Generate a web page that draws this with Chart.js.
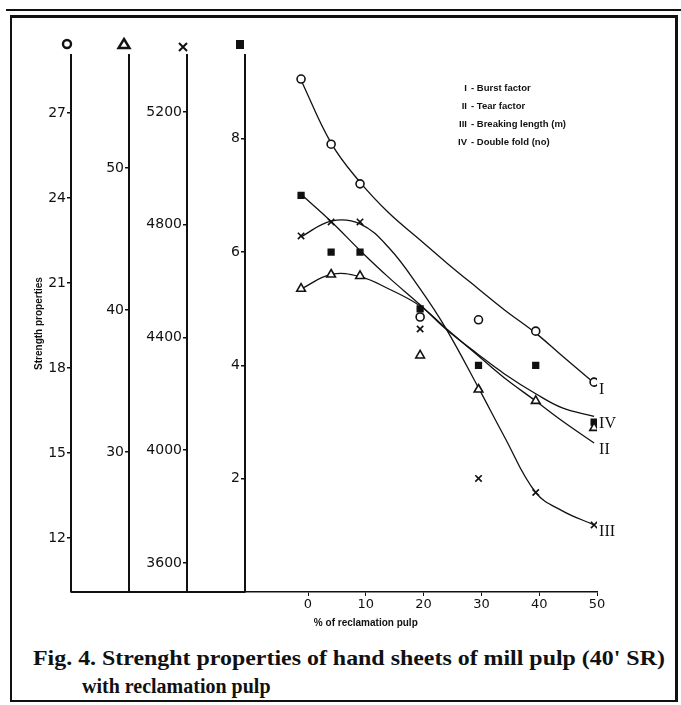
<!DOCTYPE html>
<html>
<head>
<meta charset="utf-8">
<script src="https://cdn.jsdelivr.net/npm/chart.js@4.4.0/dist/chart.umd.min.js"></script>
<style>
  html, body { margin: 0; padding: 0; background: #fff; }
  body { width: 681px; height: 705px; position: relative; overflow: hidden; }
  #topRule { position: absolute; left: 6px; top: 9px; width: 675px; height: 2px; background: #111; }
  #frame { position: absolute; left: 10px; top: 15px; width: 663px; height: 682px;
           border-top: 3px solid #111; border-left: 2px solid #111; border-right: 3px solid #111; border-bottom: 2px solid #111; }
  #chart { position: absolute; left: 0; top: 0; }
  .cap { position: absolute; font-family: "Liberation Serif", serif; font-weight: bold; font-size: 20px;
         line-height: 20px; color: #111; white-space: nowrap; transform-origin: 0 0; }
</style>
</head>
<body>
<div id="topRule"></div>
<div id="frame"></div>
<canvas id="chart" width="681" height="640"></canvas>
<div class="cap" id="cap1" style="left:33px; top:648px;">Fig. 4. Strenght properties of hand sheets of mill pulp (40' SR)</div>
<div class="cap" id="cap2" style="left:82px; top:676px;">with reclamation pulp</div>
<script>
// % of reclamation pulp (x positions)
const pulp = [-1.2, 4, 9, 19.4, 29.5, 39.4, 49.5];
// measured points
const burstFactor = [28.2, 25.9, 24.5, 19.8, 19.7, 19.3, 17.5];
const tearFactor = [41.5, 42.5, 42.4, 36.8, 34.4, 33.6, 31.7];
const breakingLength = [4760, 4810, 4810, 4430, 3900, 3850, 3735];
const doubleFold = [7, 6, 6, 5, 4, 4, 3];

// hand-drawn fitted curves
const curveX = [-1.2, 4, 9, 14, 19.4, 24, 29.5, 34, 39.4, 44, 49.5];
const burstCurve = [28.16, 25.94, 24.56, 23.47, 22.52, 21.71, 20.79, 20.05, 19.23, 18.42, 17.47];
const tearCurve = [41.48, 42.51, 42.35, 41.48, 40.28, 38.66, 36.76, 35.21, 33.59, 32.18, 30.63];
const breakingCurve = [4757, 4813, 4803, 4718, 4572, 4427, 4221, 4047, 3850, 3785, 3735];
const foldCurve = [7.02, 6.54, 6.03, 5.55, 5.07, 4.63, 4.19, 3.85, 3.50, 3.25, 3.10];

// axis ticks
const pulpTicks = [0, 10, 20, 30, 40, 50];
const burstTicks = [12, 15, 18, 21, 24, 27];
const tearTicks = [30, 40, 50];
const breakingTicks = [3600, 4000, 4400, 4800, 5200];
const foldTicks = [2, 4, 6, 8];

const legendLines = [
    ['I', '- Burst factor'],
    ['II', '- Tear factor'],
    ['III', '- Breaking length (m)'],
    ['IV', '- Double fold (no)']
];

const INK = '#111';

function pts(xs, ys) {
    return xs.map((x, i) => ({ x: x, y: ys[i] }));
}

function markerSet(ys, axis, style, radius, fill) {
    return {
        data: pts(pulp, ys),
        yAxisID: axis,
        showLine: false,
        pointStyle: style,
        pointRadius: radius,
        pointBorderWidth: 1.6,
        borderColor: INK,
        backgroundColor: fill,
        pointBackgroundColor: fill
    };
}

function curveSet(ys, axis, label) {
    return {
        data: pts(curveX, ys),
        yAxisID: axis,
        showLine: true,
        pointRadius: 0,
        borderColor: INK,
        borderWidth: 1.3,
        tension: 0.4,
        fill: false,
        endLabel: label
    };
}

function yScale(weight, min, max, ticks, width) {
    return {
        type: 'linear',
        position: 'left',
        weight: weight,
        min: min,
        max: max,
        afterBuildTicks: s => { s.ticks = ticks.map(v => ({ value: v })); },
        afterFit: s => { s.width = width; },
        border: { display: true, color: INK, width: 2 },
        grid: { display: true, drawOnChartArea: false, drawTicks: true, tickLength: 4, color: INK, lineWidth: 1.5 },
        ticks: {
            color: INK, autoSkip: false, padding: 1,
            font: { family: 'DejaVu Sans', size: 14 },
            callback: v => String(v)
        }
    };
}

// decorations: axis symbols, legend, curve labels, x title
const decor = {
    id: 'decor',
    afterDraw(chart) {
        const c = chart.ctx;
        const area = chart.chartArea;
        const sc = chart.scales;
        c.save();
        c.strokeStyle = INK;
        c.fillStyle = INK;

        // baseline continues under the left axes
        c.lineWidth = 2;
        c.beginPath();
        c.moveTo(sc.y1.right, area.bottom);
        c.lineTo(area.left, area.bottom);
        c.stroke();

        // symbols on top of each axis
        const sy = area.top - 11;
        let x = sc.y1.right - 4;
        c.lineWidth = 2.4;
        c.beginPath();
        c.arc(x, sy, 4, 0, Math.PI * 2);
        c.stroke();

        x = sc.y2.right - 5;
        c.beginPath();
        c.moveTo(x, sy - 5);
        c.lineTo(x + 5.5, sy + 4);
        c.lineTo(x - 5.5, sy + 4);
        c.closePath();
        c.stroke();

        x = sc.y3.right - 4;
        c.lineWidth = 2;
        c.beginPath();
        c.moveTo(x - 4, sy - 1);
        c.lineTo(x + 4, sy + 7);
        c.moveTo(x + 4, sy - 1);
        c.lineTo(x - 4, sy + 7);
        c.stroke();

        x = sc.y4.right - 5;
        c.fillRect(x - 4, sy - 4, 8, 9);

        // legend
        c.font = 'bold 9.5px "Liberation Sans"';
        c.textBaseline = 'middle';
        const lx = area.left + 222;
        legendLines.forEach((row, i) => {
            const ly = area.top + 33 + i * 18;
            c.textAlign = 'right';
            c.fillText(row[0], lx, ly);
            c.textAlign = 'left';
            c.fillText(row[1], lx + 4, ly);
        });

        // roman labels at the curve ends
        c.font = '16px "Liberation Serif"';
        c.textAlign = 'left';
        chart.data.datasets.forEach((ds, i) => {
            if (!ds.endLabel) return;
            const pts = chart.getDatasetMeta(i).data;
            const p = pts[pts.length - 1];
            c.fillText(ds.endLabel, p.x + 5, p.y + 7);
        });

        // x title
        c.font = 'bold 10px "Liberation Sans"';
        c.textAlign = 'center';
        c.fillText('% of reclamation pulp', sc.x.getPixelForValue(10), area.bottom + 31);
        c.restore();
    }
};

new Chart(document.getElementById('chart'), {
    type: 'scatter',
    data: {
        datasets: [
            markerSet(burstFactor, 'y1', 'circle', 4, '#fff'),
            markerSet(tearFactor, 'y2', 'triangle', 5, '#fff'),
            markerSet(breakingLength, 'y3', 'crossRot', 4.5, INK),
            markerSet(doubleFold, 'y4', 'rect', 4, INK),
            curveSet(burstCurve, 'y1', 'I'),
            curveSet(tearCurve, 'y2', 'II'),
            curveSet(breakingCurve, 'y3', 'III'),
            curveSet(foldCurve, 'y4', 'IV')
        ]
    },
    options: {
        responsive: false,
        animation: false,
        layout: { padding: { left: 15, top: 55, right: 84, bottom: 18 } },
        plugins: { legend: { display: false }, tooltip: { enabled: false } },
        scales: {
            x: {
                type: 'linear',
                position: 'bottom',
                min: -10.9,
                max: 50,
                afterBuildTicks: s => { s.ticks = pulpTicks.map(v => ({ value: v })); },
                afterFit: s => { s.height = 30; },
                border: { color: INK, width: 1.5 },
                grid: { display: true, drawOnChartArea: false, tickLength: 4, color: INK },
                ticks: { color: INK, autoSkip: false, maxRotation: 0, padding: 1, font: { family: 'DejaVu Sans', size: 13 } }
            },
            y1: Object.assign(yScale(4, 10.09, 29.05, burstTicks, 56), {
                title: {
                    display: true,
                    text: 'Strength properties',
                    color: INK,
                    font: { family: 'Liberation Sans', size: 10, weight: 'bold' },
                    padding: { top: 18, bottom: 0 }
                }
            }),
            y2: yScale(3, 20.14, 57.96, tearTicks, 58),
            y3: yScale(2, 3497, 5402, breakingTicks, 58),
            y4: yScale(1, 0, 9.48, foldTicks, 58)
        }
    },
    plugins: [decor]
});

// fit caption first line to its printed width
const cap1 = document.getElementById('cap1');
const w = cap1.getBoundingClientRect().width;
if (w > 0) cap1.style.transform = 'scaleX(' + (632 / w).toFixed(3) + ')';
</script>
</body>
</html>
